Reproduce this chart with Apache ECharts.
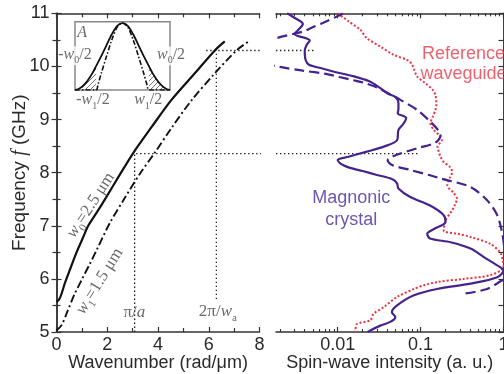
<!DOCTYPE html>
<html>
<head>
<meta charset="utf-8">
<script src="https://cdn.jsdelivr.net/npm/echarts@6/dist/echarts.min.js"></script>
<style>
html, body { margin: 0; padding: 0; background: #fff; }
#main { width: 504px; height: 374px; }
</style>
</head>
<body>
<div id="main"></div>
<script>
// dispersion, w0 = 2.5 um (solid) and w1 = 1.5 um (dash-dot)
var kW0 = [0, 0.1, 0.2, 0.33, 0.55, 0.79, 1.02, 1.25, 1.6, 1.95, 2.43, 3.01, 3.75, 4.53, 5.45, 6.24, 6.63];
var fW0 = [5.57, 5.61, 5.72, 5.92, 6.2, 6.5, 6.75, 7.0, 7.26, 7.53, 7.91, 8.36, 8.86, 9.37, 9.87, 10.3, 10.47];
var kW1 = [0, 0.2, 0.45, 0.7, 0.99, 1.3, 1.58, 2.1, 2.7, 3.29, 3.88, 4.53, 5.32, 6.24, 7.09, 7.54];
var fW1 = [5.03, 5.13, 5.41, 5.7, 5.98, 6.27, 6.54, 7.05, 7.53, 7.98, 8.38, 8.84, 9.36, 9.87, 10.3, 10.46];

// guide lines
var kPiA = 3.08, kTwoPiW = 6.3;
var fGap1 = 8.36, fGap2 = 10.3;

// spin-wave intensity: magnonic crystal (solid), simulation (dashed), reference waveguide (dotted)
var fMC = [11.0, 10.93, 10.8, 10.7, 10.61, 10.49, 10.4, 10.3, 10.12, 10.03, 9.96, 9.9, 9.82, 9.72, 9.6, 9.49, 9.42, 9.3, 9.2, 9.12, 9.03, 8.92, 8.8, 8.61, 8.49, 8.4, 8.3, 8.24, 8.17, 8.1, 8.03, 7.96, 7.88, 7.8, 7.7, 7.54, 7.38, 7.2, 7.07, 6.94, 6.85, 6.76, 6.69, 6.57, 6.41, 6.22, 6.16, 6.03, 5.91, 5.81, 5.69, 5.5, 5.37, 5.28, 5.19, 5.12, 5.03, 5.0];
var vMC = [0.00245, 0.0029, 0.0038, 0.0034, 0.003, 0.0046, 0.0042, 0.004, 0.0041, 0.0045, 0.0065, 0.009, 0.015, 0.024, 0.032, 0.04, 0.05, 0.054, 0.054, 0.053, 0.067, 0.062, 0.054, 0.052, 0.036, 0.023, 0.0135, 0.0100, 0.0108, 0.0135, 0.02, 0.029, 0.045, 0.052, 0.054, 0.075, 0.13, 0.19, 0.2, 0.145, 0.12, 0.13, 0.23, 0.4, 0.58, 0.91, 1.0, 0.84, 0.4, 0.158, 0.083, 0.052, 0.045, 0.0496, 0.043, 0.0327, 0.0247, 0.023];
var fDash = [11.0, 10.97, 10.82, 10.72, 10.66, 10.53, 10.4, 10.2, 10.05, 9.99, 9.92, 9.86, 9.8, 9.74, 9.69, 9.62, 9.5, 9.37, 9.18, 8.96, 8.8, 8.71, 8.62, 8.55, 8.46, 8.36, 8.28, 8.23, 8.14, 8.05, 7.95, 7.89, 7.73, 7.48, 7.2, 6.88, 6.6, 6.3, 6.0, 5.95, 5.81, 5.72];
var vDash = [0.0115, 0.0107, 0.0067, 0.0047, 0.0039, 0.0018, 0.0011, 0.0009, 0.0014, 0.002, 0.0038, 0.0072, 0.0105, 0.0155, 0.021, 0.028, 0.04, 0.057, 0.091, 0.131, 0.163, 0.174, 0.165, 0.145, 0.091, 0.057, 0.043, 0.04, 0.046, 0.075, 0.13, 0.174, 0.4, 0.635, 0.84, 0.96, 1.02, 1.06, 1.0, 0.91, 0.635, 0.33];
var fRef = [11.0, 10.85, 10.69, 10.53, 10.37, 10.22, 10.12, 10.05, 9.95, 9.81, 9.68, 9.56, 9.46, 9.3, 9.18, 9.05, 8.93, 8.8, 8.68, 8.61, 8.49, 8.4, 8.3, 8.2, 8.11, 8.01, 7.9, 7.76, 7.62, 7.51, 7.4, 7.29, 7.1, 6.91, 6.85, 6.79, 6.66, 6.5, 6.35, 6.22, 6.07, 6.0, 5.94, 5.88, 5.81, 5.66, 5.47, 5.34, 5.22, 5.15, 5.03, 5.0];
var vRef = [0.01, 0.0135, 0.0187, 0.0225, 0.033, 0.047, 0.069, 0.078, 0.083, 0.091, 0.115, 0.14, 0.151, 0.155, 0.151, 0.14, 0.131, 0.145, 0.174, 0.18, 0.16, 0.165, 0.174, 0.19, 0.225, 0.24, 0.225, 0.21, 0.25, 0.275, 0.26, 0.24, 0.2, 0.19, 0.28, 0.4, 0.69, 0.91, 0.98, 1.0, 0.69, 0.33, 0.158, 0.11, 0.083, 0.052, 0.036, 0.027, 0.0247, 0.017, 0.0163, 0.016];

// inset: lateral mode profiles
var profX0 = [-1.35, -1.25, -1.15, -1.05, -0.95, -0.85, -0.75, -0.6, -0.45, -0.3, -0.15, 0, 0.15, 0.3, 0.45, 0.6, 0.75, 0.85, 0.95, 1.05, 1.15, 1.25, 1.35];
var profA0 = [0, 0.015, 0.05, 0.1, 0.17, 0.25, 0.35, 0.5, 0.66, 0.82, 0.94, 0.98, 0.94, 0.82, 0.66, 0.5, 0.35, 0.25, 0.17, 0.1, 0.05, 0.015, 0];
var profX1 = [-1.35, -0.75, -0.7, -0.6, -0.45, -0.3, -0.15, 0, 0.15, 0.3, 0.45, 0.6, 0.7, 0.75, 1.35];
var profA1 = [0, 0, 0.07, 0.25, 0.5, 0.74, 0.92, 0.98, 0.92, 0.74, 0.5, 0.25, 0.07, 0, 0];

var LOG_MIN = 0.0018, LOG_MAX = 1;
var minorLog = [];
[0.001, 0.01, 0.1].forEach(function (d) {
    for (var m = 2; m <= 9; m++) {
        var v = m * d;
        if (v > LOG_MIN && v < LOG_MAX) minorLog.push(Math.log10(v));
    }
});

function zip(a, b) {
    return a.map(function (v, i) { return [v, b[i]]; });
}

var sans = 'Liberation Sans';
var serif = 'Liberation Serif';
var axisColor = '#333';
var txtColor = '#2a2a2a';
var purple = '#45238f';
var red = '#f0303f';

// hatch pattern for the inset
var hatch = document.createElement('canvas');
hatch.width = 5; hatch.height = 5;
(function () {
    var c = hatch.getContext('2d');
    c.strokeStyle = '#666';
    c.lineWidth = 0.9;
    c.beginPath();
    c.moveTo(0, 5); c.lineTo(5, 0);
    c.moveTo(-1, 1); c.lineTo(1, -1);
    c.moveTo(4, 6); c.lineTo(6, 4);
    c.stroke();
})();

var richSerif = function (size) {
    return {
        i: { fontFamily: serif, fontStyle: 'italic', fontSize: size, color: '#444', verticalAlign: 'bottom', padding: [0, 0, 3, 0] },
        n: { fontFamily: serif, fontSize: size, color: '#444', verticalAlign: 'bottom', padding: [0, 0, 3, 0] },
        s: { fontFamily: serif, fontSize: Math.round(size * 0.65), color: '#444', verticalAlign: 'bottom' }
    };
};

function textAt(xi, yi, pos, fmt, extra) {
    var label = {
        show: true,
        position: 'inside',
        formatter: fmt,
        rich: richSerif(17)
    };
    for (var key in extra) label[key] = extra[key];
    return {
        type: 'scatter', xAxisIndex: xi, yAxisIndex: yi, data: [pos],
        symbolSize: 1, itemStyle: { color: 'transparent' }, silent: true, clip: false, z: 10,
        label: label
    };
}

function guide(xi, yi, pts, clip) {
    return {
        type: 'line', xAxisIndex: xi, yAxisIndex: yi, data: pts, symbol: 'none', silent: true,
        clip: clip, z: 1,
        lineStyle: { color: '#222', width: 1.3, type: [1.4, 2.6] }
    };
}

var lineAxis = { show: true, lineStyle: { color: axisColor, width: 1.5 } };
var tickIn = function (len) {
    return { show: true, inside: true, length: len, lineStyle: { color: axisColor, width: 1.2 } };
};
var minorIn = function (len, n) {
    return { show: true, splitNumber: n, length: len, lineStyle: { color: axisColor, width: 1.2 } };
};
var tickLabel = { fontFamily: sans, fontSize: 18, color: txtColor };

var chart = echarts.init(document.getElementById('main'));

var option = {
    animation: false,
    backgroundColor: '#fff',
    grid: [
        { left: 56.5, top: 13.3, width: 203, height: 318.7, outerBoundsMode: 'none' },
        { left: 276, top: 13.3, width: 227.5, height: 318.7, outerBoundsMode: 'none' },
        {
            left: 75, top: 21.7, width: 95, height: 68.3, outerBoundsMode: 'none',
            show: true, backgroundColor: '#fff', borderColor: '#888', borderWidth: 1.5
        }
    ],
    xAxis: [
        {
            gridIndex: 0, type: 'value', min: 0, max: 8, interval: 2, position: 'bottom',
            axisLine: lineAxis, axisTick: tickIn(5), minorTick: minorIn(4, 2), splitLine: { show: false },
            axisLabel: Object.assign({ margin: 4 }, tickLabel),
            name: 'Wavenumber (rad/\u03bcm)', nameLocation: 'middle', nameGap: 22, nameMoveOverlap: false,
            nameTextStyle: { fontFamily: sans, fontSize: 18, color: txtColor }
        },
        {
            gridIndex: 0, type: 'value', min: 0, max: 8, interval: 2, position: 'top',
            axisLine: lineAxis, axisTick: tickIn(5), minorTick: minorIn(4, 2), splitLine: { show: false },
            axisLabel: { show: false }
        },
        {
            gridIndex: 1, type: 'log', logBase: 10, min: LOG_MIN, max: LOG_MAX, position: 'bottom',
            axisLine: lineAxis, axisTick: tickIn(5), splitLine: { show: false },
            axisLabel: Object.assign({
                margin: 4, showMinLabel: false,
                formatter: function (v) { return v >= 0.0099 ? String(+v.toPrecision(2)) : ''; }
            }, tickLabel),
            name: 'Spin-wave intensity (a. u.)', nameLocation: 'middle', nameGap: 22, nameMoveOverlap: false,
            nameTextStyle: { fontFamily: sans, fontSize: 18, color: txtColor }
        },
        {
            gridIndex: 1, type: 'log', logBase: 10, min: LOG_MIN, max: LOG_MAX, position: 'top',
            axisLine: lineAxis, axisTick: tickIn(5), splitLine: { show: false },
            axisLabel: { show: false }
        },
        {
            gridIndex: 1, type: 'value', min: Math.log10(LOG_MIN), max: 0, position: 'bottom',
            axisLine: { show: false }, splitLine: { show: false }, axisLabel: { show: false },
            axisTick: { show: true, inside: true, length: 3, customValues: minorLog, lineStyle: { color: axisColor, width: 1.1 } }
        },
        {
            gridIndex: 1, type: 'value', min: Math.log10(LOG_MIN), max: 0, position: 'top',
            axisLine: { show: false }, splitLine: { show: false }, axisLabel: { show: false },
            axisTick: { show: true, inside: true, length: 3, customValues: minorLog, lineStyle: { color: axisColor, width: 1.1 } }
        },
        {
            gridIndex: 2, type: 'value', min: -1.35, max: 1.35, show: false
        }
    ],
    yAxis: [
        {
            gridIndex: 0, type: 'value', min: 5, max: 11, interval: 1, position: 'left',
            axisLine: lineAxis, axisTick: tickIn(5), minorTick: minorIn(4, 2), splitLine: { show: false },
            axisLabel: Object.assign({ margin: 7 }, tickLabel),
            name: 'Frequency {i|f} (GHz)', nameLocation: 'middle', nameGap: 27, nameMoveOverlap: false,
            nameTextStyle: {
                fontFamily: sans, fontSize: 19, color: txtColor,
                rich: { i: { fontFamily: serif, fontStyle: 'italic', fontSize: 20, color: txtColor } }
            }
        },
        {
            gridIndex: 0, type: 'value', min: 5, max: 11, interval: 1, position: 'right',
            axisLine: lineAxis, axisTick: tickIn(5), minorTick: minorIn(4, 2), splitLine: { show: false },
            axisLabel: { show: false }
        },
        {
            gridIndex: 1, type: 'value', min: 5, max: 11, interval: 1, position: 'left',
            axisLine: lineAxis, axisTick: tickIn(5), minorTick: minorIn(5, 2), splitLine: { show: false },
            axisLabel: { show: false }
        },
        {
            gridIndex: 1, type: 'value', min: 5, max: 11, interval: 1, position: 'right',
            axisLine: lineAxis, axisTick: tickIn(5), minorTick: minorIn(5, 2), splitLine: { show: false },
            axisLabel: { show: false }
        },
        {
            gridIndex: 2, type: 'value', min: 0, max: 1, show: false
        }
    ],
    series: [
        // guide lines
        guide(0, 0, [[kPiA, 5], [kPiA, fGap1]], true),
        guide(0, 0, [[kTwoPiW, 5.62], [kTwoPiW, fGap2]], true),
        guide(0, 0, [[2.98, fGap1], [8.65, fGap1]], false),
        guide(0, 0, [[5.9, fGap2], [8.65, fGap2]], false),
        guide(2, 2, [[LOG_MIN, fGap1], [0.092, fGap1]], true),
        guide(2, 2, [[LOG_MIN, fGap2], [0.0054, fGap2]], true),
        // dispersion curves
        {
            type: 'line', xAxisIndex: 0, yAxisIndex: 0, data: zip(kW0, fW0), symbol: 'none', smooth: 0.3,
            lineStyle: { color: '#111', width: 2.2 }, z: 3
        },
        {
            type: 'line', xAxisIndex: 0, yAxisIndex: 0, data: zip(kW1, fW1), symbol: 'none', smooth: 0.3,
            lineStyle: { color: '#111', width: 1.9, type: [8, 3, 2, 3] }, z: 3
        },
        // spin-wave intensity
        {
            type: 'line', xAxisIndex: 2, yAxisIndex: 2, data: zip(vRef, fRef), symbol: 'none', smooth: 0.3,
            lineStyle: { color: red, width: 2, type: [2, 2] }, z: 3
        },
        {
            type: 'line', xAxisIndex: 2, yAxisIndex: 2, data: zip(vDash, fDash), symbol: 'none', smooth: 0.3,
            lineStyle: { color: purple, width: 2.2, type: [10, 5] }, z: 3
        },
        {
            type: 'line', xAxisIndex: 2, yAxisIndex: 2, data: zip(vMC, fMC), symbol: 'none', smooth: 0.3,
            lineStyle: { color: purple, width: 2.2 }, z: 4
        },
        // inset profiles
        {
            type: 'line', xAxisIndex: 6, yAxisIndex: 4, symbol: 'none', smooth: 0.3, z: 3,
            data: zip(profX0, profA0).filter(function (p) { return p[0] <= -0.75 && p[0] >= -1.15; }),
            lineStyle: { width: 0 }, areaStyle: { color: { image: hatch, repeat: 'repeat' }, opacity: 1 }
        },
        {
            type: 'line', xAxisIndex: 6, yAxisIndex: 4, symbol: 'none', smooth: 0.3, z: 3,
            data: zip(profX0, profA0).filter(function (p) { return p[0] >= 0.75 && p[0] <= 1.15; }),
            lineStyle: { width: 0 }, areaStyle: { color: { image: hatch, repeat: 'repeat' }, opacity: 1 }
        },
        {
            type: 'line', xAxisIndex: 6, yAxisIndex: 4, data: zip(profX0, profA0), symbol: 'none', smooth: 0.3,
            lineStyle: { color: '#111', width: 1.8 }, z: 4
        },
        {
            type: 'line', xAxisIndex: 6, yAxisIndex: 4, data: zip(profX1, profA1), symbol: 'none', smooth: 0.3,
            lineStyle: { color: '#111', width: 1.6, type: [5, 2, 1.5, 2] }, z: 4
        },
        // annotations
        textAt(0, 0, [1.4, 7.37], '{i|w}{s|0}{n|=2.5 \u03bcm}', { rotate: 57 }),
        textAt(0, 0, [1.75, 5.94], '{i|w}{s|1}{n|=1.5 \u03bcm}', { rotate: 58 }),
        textAt(0, 0, [3.07, 5.34], '{n|\u03c0/}{i|a}', {}),
        textAt(0, 0, [6.36, 5.35], '{n|2\u03c0/}{i|w}{s|a}', {}),
        textAt(6, 4, [-1.15, 0.82], '{i|A}', { rich: richSerif(16) }),
        textAt(6, 4, [-1.35, 0.5], '{n|-}{i|w}{s|0}{n|/2}', { rich: richSerif(16), backgroundColor: '#fff' }),
        textAt(6, 4, [1.38, 0.5], '{i|w}{s|0}{n|/2}', { rich: richSerif(16), backgroundColor: '#fff' }),
        textAt(6, 4, [-0.84, -0.17], '{n|-}{i|w}{s|1}{n|/2}', { rich: richSerif(16) }),
        textAt(6, 4, [0.73, -0.17], '{i|w}{s|1}{n|/2}', { rich: richSerif(16) }),
        textAt(2, 2, [0.0146, 7.31], 'Magnonic\ncrystal', {
            fontFamily: sans, fontSize: 18, color: '#4a2c9a', lineHeight: 22, align: 'center', rich: {}
        }),
        textAt(2, 2, [0.33, 10.05], 'Reference\nwaveguide', {
            fontFamily: sans, fontSize: 18, color: '#ea3a4a', lineHeight: 20, align: 'center', rich: {}
        })
    ]
};

chart.setOption(option);
</script>
</body>
</html>
